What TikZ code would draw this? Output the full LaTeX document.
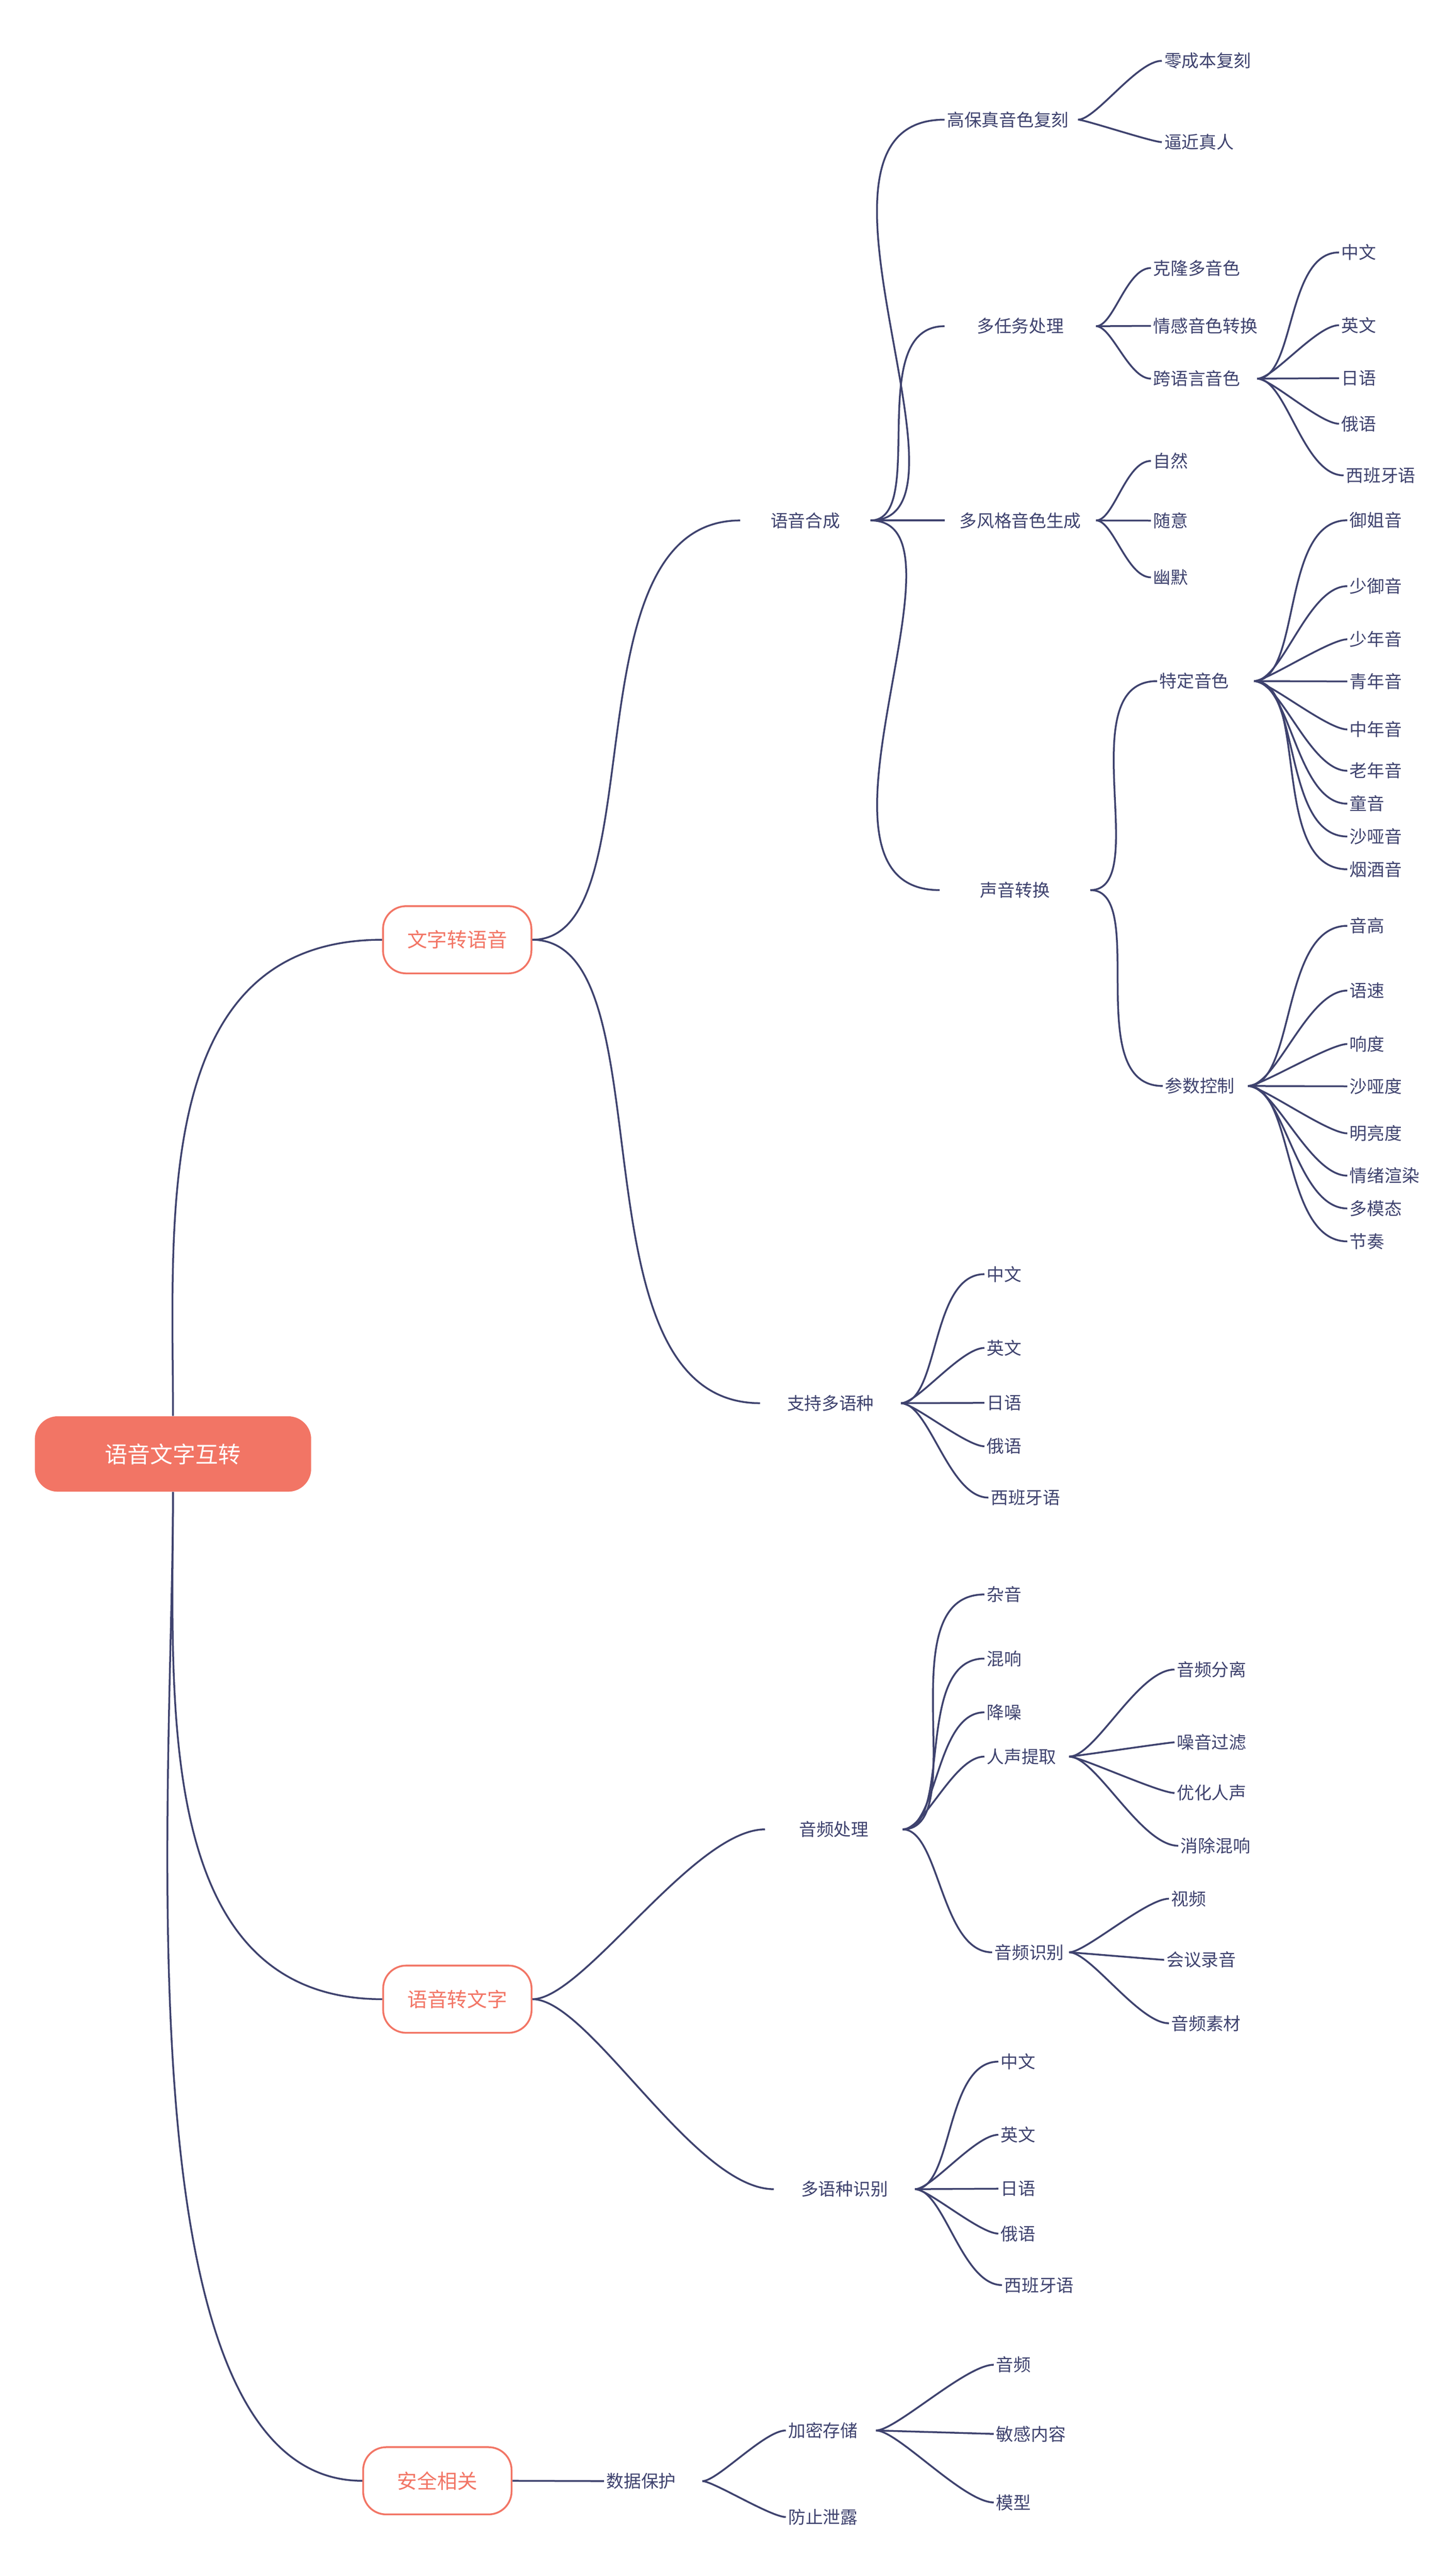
\documentclass[tikz,border=0pt]{standalone}
\usepackage{fontspec}
\setmainfont{Noto Sans CJK SC}
\usetikzlibrary{calc}

\definecolor{salmon}{RGB}{242,117,101}
\definecolor{ink}{RGB}{62,66,110}

\begin{document}
\begin{tikzpicture}[x = 1pt, y = -1pt,
	every node/.style = {inner sep = 0pt},
	root/.style = {fill = salmon, text = white, rounded corners = 14pt, minimum width = 168.5pt, minimum height = 46pt, font = \fontsize{13.8}{16}\selectfont},
	lvl/.style = {draw = salmon, fill = white, line width = 1.1pt, text = salmon, rounded corners = 14pt, minimum width = 90.5pt, minimum height = 41pt, font = \fontsize{12.2}{14}\selectfont},
	leaf/.style = {anchor = west, inner xsep = 1.3pt, text = ink, font = \fontsize{10.6}{12}\selectfont},
	hub/.style = {leaf, text width = #1, align = left},
	sub/.style = {leaf, text width = #1, align = center},
	trunk/.style = {draw = ink, line width = 1.1pt},
	link/.style = {trunk, to path = {let \p1 = (\tikztostart), \p2 = (\tikztotarget), \n1 = {0.3*abs(\y2-\y1)}, \n2 = {0.42*abs(\y2-\y1)} in .. controls +(\n1,0pt) and +(-\n2,0pt) .. (\tikztotarget)}}]
	
	\fill[white] (0,0) rectangle (887,1571.5);
	\useasboundingbox (0,0) rectangle (887,1571.5);
	
	\node[root] (root) at (105.5, 887) {语音文字互转};
	
	\node[lvl] (tts) at (278.8, 573.3) {文字转语音};
	\node[lvl] (stt) at (278.9, 1219.6) {语音转文字};
	\node[lvl] (sec) at (266.7, 1513.4) {安全相关};
	
	\draw[trunk] (root.north) .. controls +(0,-120) and +(-141,0) .. (tts.west);
	\draw[trunk] (root.south) .. controls +(0,124) and +(-141,0) .. (stt.west);
	\draw[trunk] (root.south) .. controls +(0,181) and +(-150,0) .. (sec.west);
	
	% 文字转语音
	\node[sub = 76.4pt] (syn) at (451.4, 317.5) {语音合成};
	\node[sub = 82.9pt] (mlang) at (463.5, 856) {支持多语种};
	\draw[link] (tts.east) to (syn.west);
	\draw[link] (tts.east) to (mlang.west);
	
	\node[hub = 78.4pt] (hifi) at (576, 73) {高保真音色复刻};
	\node[sub = 89.4pt] (multi) at (576, 199) {多任务处理};
	\node[sub = 89.4pt] (multistyle) at (576, 317.5) {多风格音色生成};
	\node[sub = 88.9pt] (vc) at (573, 543) {声音转换};
	\draw[link] (syn.east) to (hifi.west);
	\draw[link] (syn.east) to (multi.west);
	\draw[link] (syn.east) to (multistyle.west);
	\draw[link] (syn.east) to (vc.west);
	
	\node[leaf] (zero) at (708.5, 37.1) {零成本复刻};
	\node[leaf] (real) at (708.5, 86.7) {逼近真人};
	\draw[link] (hifi.east) to (zero.west);
	\draw[link] (hifi.east) to (real.west);
	
	\node[leaf] (clone) at (701.8, 163.5) {克隆多音色};
	\node[leaf] (emo) at (701.8, 198.8) {情感音色转换};
	\node[hub = 61.9pt] (xling) at (701.8, 231) {跨语言音色};
	\draw[link] (multi.east) to (clone.west);
	\draw[link] (multi.east) to (emo.west);
	\draw[link] (multi.east) to (xling.west);
	
	\node[leaf] (xl-zh) at (816.5, 154) {中文};
	\node[leaf] (xl-en) at (816.5, 198.4) {英文};
	\node[leaf] (xl-ja) at (816.5, 230.7) {日语};
	\node[leaf] (xl-ru) at (816.5, 258.5) {俄语};
	\node[leaf] (xl-es) at (819.3, 290) {西班牙语};
	\draw[link] (xling.east) to (xl-zh.west);
	\draw[link] (xling.east) to (xl-en.west);
	\draw[link] (xling.east) to (xl-ja.west);
	\draw[link] (xling.east) to (xl-ru.west);
	\draw[link] (xling.east) to (xl-es.west);
	
	\node[leaf] (natural) at (701.8, 281.2) {自然};
	\node[leaf] (casual) at (701.8, 317.6) {随意};
	\node[leaf] (humor) at (701.8, 352.2) {幽默};
	\draw[link] (multistyle.east) to (natural.west);
	\draw[link] (multistyle.east) to (casual.west);
	\draw[link] (multistyle.east) to (humor.west);
	
	\node[hub = 56.1pt] (timbre) at (705.6, 415.5) {特定音色};
	\node[hub = 49pt] (param) at (709, 662.5) {参数控制};
	\draw[link] (vc.east) to (timbre.west);
	\draw[link] (vc.east) to (param.west);
	
	\node[leaf] (t1) at (821.6, 317.4) {御姐音};
	\node[leaf] (t2) at (821.6, 357.6) {少御音};
	\node[leaf] (t3) at (821.6, 390) {少年音};
	\node[leaf] (t4) at (821.6, 415.7) {青年音};
	\node[leaf] (t5) at (821.6, 445) {中年音};
	\node[leaf] (t6) at (821.6, 470.2) {老年音};
	\node[leaf] (t7) at (821.6, 490.3) {童音};
	\node[leaf] (t8) at (821.6, 510.3) {沙哑音};
	\node[leaf] (t9) at (821.6, 530.3) {烟酒音};
	\draw[link] (timbre.east) to (t1.west);
	\draw[link] (timbre.east) to (t2.west);
	\draw[link] (timbre.east) to (t3.west);
	\draw[link] (timbre.east) to (t4.west);
	\draw[link] (timbre.east) to (t5.west);
	\draw[link] (timbre.east) to (t6.west);
	\draw[link] (timbre.east) to (t7.west);
	\draw[link] (timbre.east) to (t8.west);
	\draw[link] (timbre.east) to (t9.west);
	
	\node[leaf] (p1) at (821.6, 564.8) {音高};
	\node[leaf] (p2) at (821.6, 604.3) {语速};
	\node[leaf] (p3) at (821.6, 636.9) {响度};
	\node[leaf] (p4) at (821.6, 662.7) {沙哑度};
	\node[leaf] (p5) at (821.6, 691.4) {明亮度};
	\node[leaf] (p6) at (821.6, 717.2) {情绪渲染};
	\node[leaf] (p7) at (821.6, 737.2) {多模态};
	\node[leaf] (p8) at (821.6, 757.3) {节奏};
	\draw[link] (param.east) to (p1.west);
	\draw[link] (param.east) to (p2.west);
	\draw[link] (param.east) to (p3.west);
	\draw[link] (param.east) to (p4.west);
	\draw[link] (param.east) to (p5.west);
	\draw[link] (param.east) to (p6.west);
	\draw[link] (param.east) to (p7.west);
	\draw[link] (param.east) to (p8.west);
	
	\node[leaf] (ml-zh) at (600.3, 777.3) {中文};
	\node[leaf] (ml-en) at (600.3, 822.3) {英文};
	\node[leaf] (ml-ja) at (600.3, 855.8) {日语};
	\node[leaf] (ml-ru) at (600.3, 882.3) {俄语};
	\node[leaf] (ml-es) at (602.7, 913.6) {西班牙语};
	\draw[link] (mlang.east) to (ml-zh.west);
	\draw[link] (mlang.east) to (ml-en.west);
	\draw[link] (mlang.east) to (ml-ja.west);
	\draw[link] (mlang.east) to (ml-ru.west);
	\draw[link] (mlang.east) to (ml-es.west);
	
	% 语音转文字
	\node[sub = 81pt] (audio) at (466.5, 1116) {音频处理};
	\node[sub = 83.1pt] (mrec) at (471.9, 1335.5) {多语种识别};
	\draw[link] (stt.east) to (audio.west);
	\draw[link] (stt.east) to (mrec.west);
	
	\node[leaf] (noise) at (600.3, 972.7) {杂音};
	\node[leaf] (reverb) at (600.3, 1011.8) {混响};
	\node[leaf] (denoise) at (600.3, 1044.6) {降噪};
	\node[hub = 48.7pt] (vox) at (600.3, 1071.6) {人声提取};
	\node[hub = 44pt] (arec) at (605, 1191) {音频识别};
	\draw[link] (audio.east) to (noise.west);
	\draw[link] (audio.east) to (reverb.west);
	\draw[link] (audio.east) to (denoise.west);
	\draw[link] (audio.east) to (vox.west);
	\draw[link] (audio.east) to (arec.west);
	
	\node[leaf] (v1) at (716.2, 1018.5) {音频分离};
	\node[leaf] (v2) at (716.2, 1062.9) {噪音过滤};
	\node[leaf] (v3) at (716.2, 1093.8) {优化人声};
	\node[leaf] (v4) at (718.5, 1126) {消除混响};
	\draw[link] (vox.east) to (v1.west);
	\draw[link] (vox.east) to (v2.west);
	\draw[link] (vox.east) to (v3.west);
	\draw[link] (vox.east) to (v4.west);
	
	\node[leaf] (video) at (712.8, 1158.3) {视频};
	\node[leaf] (meeting) at (709.9, 1195.6) {会议录音};
	\node[leaf] (material) at (712.8, 1234.3) {音频素材};
	\draw[link] (arec.east) to (video.west);
	\draw[link] (arec.east) to (meeting.west);
	\draw[link] (arec.east) to (material.west);
	
	\node[leaf] (mr-zh) at (608.8, 1257.7) {中文};
	\node[leaf] (mr-en) at (608.8, 1302.3) {英文};
	\node[leaf] (mr-ja) at (608.8, 1335.2) {日语};
	\node[leaf] (mr-ru) at (608.8, 1362.6) {俄语};
	\node[leaf] (mr-es) at (611, 1394) {西班牙语};
	\draw[link] (mrec.east) to (mr-zh.west);
	\draw[link] (mrec.east) to (mr-en.west);
	\draw[link] (mrec.east) to (mr-ja.west);
	\draw[link] (mrec.east) to (mr-ru.west);
	\draw[link] (mrec.east) to (mr-es.west);
	
	% 安全相关
	\node[hub = 57pt] (prot) at (368.3, 1513.6) {数据保护};
	\draw[link] (sec.east) to (prot.west);
	
	\node[hub = 52pt] (enc) at (479.2, 1482.7) {加密存储};
	\node[leaf] (leak) at (479.2, 1535.5) {防止泄露};
	\draw[link] (prot.east) to (enc.west);
	\draw[link] (prot.east) to (leak.west);
	
	\node[leaf] (e1) at (606, 1442.6) {音频};
	\node[leaf] (e2) at (606, 1484.8) {敏感内容};
	\node[leaf] (e3) at (606, 1526.6) {模型};
	\draw[link] (enc.east) to (e1.west);
	\draw[link] (enc.east) to (e2.west);
	\draw[link] (enc.east) to (e3.west);
\end{tikzpicture}
\end{document}
